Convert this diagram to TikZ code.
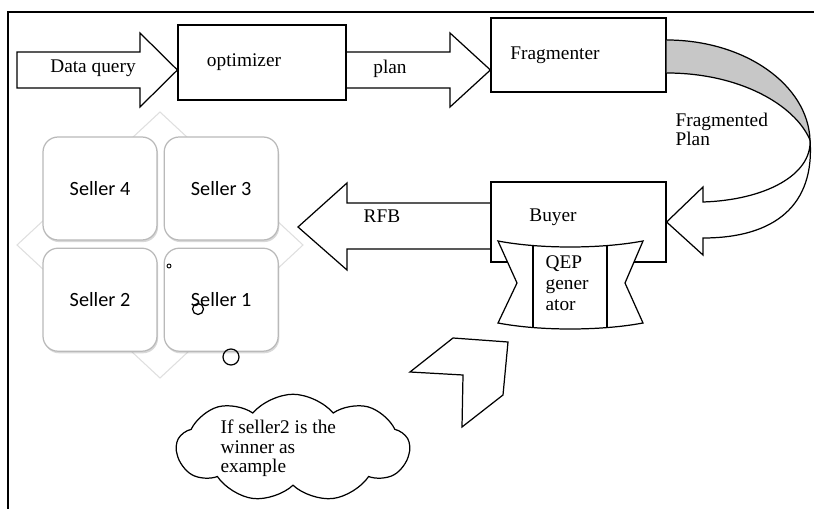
\documentclass[tikz,border=0pt]{standalone}
\usepackage{fontspec}
\setmainfont{Liberation Serif}
\newfontfamily\sellerfont{Carlito}
\usetikzlibrary{positioning,shapes.symbols,shadows}

\tikzset{
  box/.style={draw, rectangle, inner sep=0pt},
  seller/.style={draw=gray!55, fill=white, rounded corners=0.3cm, minimum width=2.28cm, minimum height=2.06cm,
    font=\sellerfont\fontsize{11.5}{13}\selectfont, drop shadow={opacity=0.3,shadow xshift=0.6pt,shadow yshift=-1.2pt}},
  lbl/.style={inner sep=0pt, font=\fontsize{11}{13}\selectfont},
}

\begin{document}
\begin{tikzpicture}[x=0.02cm,y=-0.02cm,line width=0.7pt]
  \useasboundingbox (0,0) rectangle (814,509);
  % frame
  \draw (8,509) -- (8,12) -- (814,12);
  % boxes
  \node[box, minimum width=3.36cm, minimum height=1.5cm] (opt) at (262,62.5) {};
  \node[box, minimum width=3.5cm, minimum height=1.48cm] (frag) at (578.5,55) {};
  \node[box, minimum width=3.5cm, minimum height=1.6cm] (buyer) at (578.5,222) {};
  % block arrows
  \draw (17,52) -- (140,52) -- (140,33) -- (opt.west |- 0,70) -- (140,107) -- (140,88) -- (17,88) -- cycle;
  \draw (opt.east |- 0,52) -- (450,52) -- (450,33) -- (frag.west |- 0,70) -- (450,107) -- (450,88) -- (opt.east |- 0,88);
  \draw (buyer.west |- 0,203) -- (347,203) -- (347,183) -- (298,227) -- (347,270) -- (347,249) -- (buyer.west |- 0,249);
  % curved arrow
  \filldraw[fill=black!22] (frag.east |- 0,40) .. controls (745,40) and (808,85) .. (810,140)
    .. controls (795,105) and (740,73) .. (frag.east |- 0,73);
  \draw (810,140) .. controls (812,175) and (765,200) .. (703,202) -- (703,187) -- (buyer.east |- 0,222)
    -- (703,255) -- (703,238) .. controls (775,238) and (815,205) .. (810,140);
  % QEP generator
  \filldraw[fill=white] (498,241) .. controls (540,249) and (600,249) .. (643,241) -- (625,283) -- (643,323)
    .. controls (600,331) and (540,331) .. (498,323) -- (517,283) -- cycle;
  \draw (533,245.5) -- (533,327.5);
  \draw (607,245.5) -- (607,327.5);
  % sellers
  \filldraw[draw=gray!25, fill=white, line width=0.6pt] (17,245) -- (160,112) -- (303,245) -- (160,378) -- cycle;
  \node[seller] (s4) at (100,188.5) {Seller 4};
  \node[seller, right=0.12cm of s4] (s3) {Seller 3};
  \node[seller, below=0.14cm of s4] (s2) {Seller 2};
  \node[seller, right=0.12cm of s2] (s1) {Seller 1};
  \draw[line width=0.5pt] (169,266) circle (0.04cm);
  \draw (198,309) circle (0.11cm);
  \draw (231,357) circle (0.16cm);
  % cloud and chevron
  \node[cloud, draw, cloud puffs=9, cloud puff arc=100, aspect=2.2, minimum width=4.66cm, minimum height=2.15cm, inner sep=0pt] (bubble) at (293,448) {};
  \draw (410,372) -- (453,338) -- (508,342) -- (503,395) -- (462,427) -- (463,375) -- cycle;
  % labels
  \node[lbl, anchor=base] (dq) at (93,73) {Data query};
  \node[lbl, anchor=base] (optlbl) at (244,67) {optimizer};
  \node[lbl, anchor=base] (planlbl) at (390,74) {plan};
  \node[lbl, anchor=base] (fraglbl) at (555,60) {Fragmenter};
  \node[lbl, anchor=north west, align=left, font=\fontsize{11}{11.3}\selectfont] (fplbl) at (675,112) {Fragmented\\Plan};
  \node[lbl, anchor=base] (buyerlbl) at (553,222) {Buyer};
  \node[lbl, anchor=base] (rfblbl) at (382,223) {RFB};
  \node[lbl, anchor=north west, align=left, font=\fontsize{11}{12}\selectfont] (qeplbl) at (545,255) {QEP\\gener\\ator};
  \node[lbl, anchor=north west, align=left, font=\fontsize{11}{11.3}\selectfont] (bubblelbl) at (220,419) {If seller2 is the\\winner as\\example};
\end{tikzpicture}
\end{document}
